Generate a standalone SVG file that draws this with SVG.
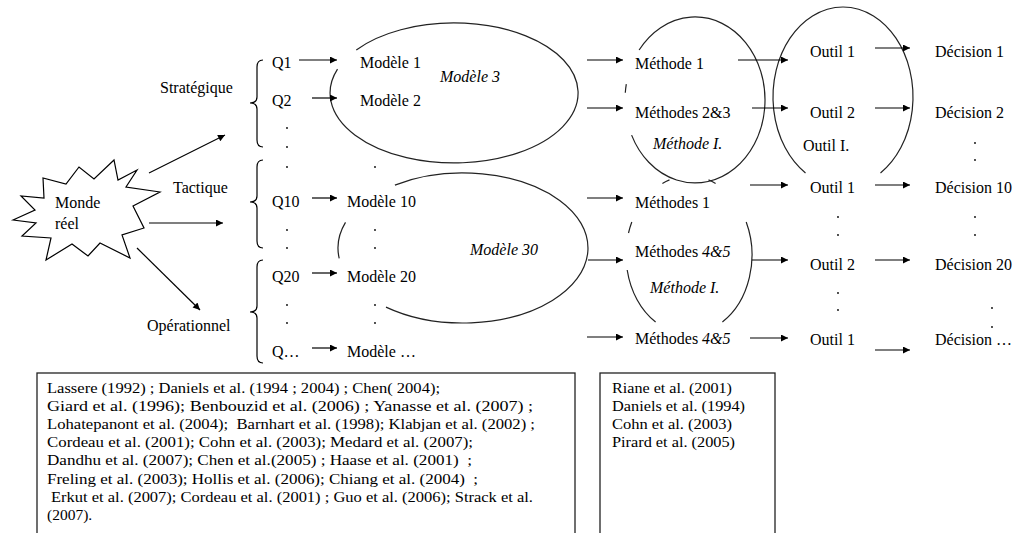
<svg xmlns="http://www.w3.org/2000/svg" width="1017" height="533" viewBox="0 0 1017 533">
<style>
text{font-family:Liberation Serif,Times New Roman,serif;font-size:16px;fill:#000}
.it{font-style:italic}
.ref{font-size:15.5px}
.ln{stroke:#000;stroke-width:1.2;fill:none}
.arr{stroke:#000;stroke-width:1.2;fill:none;marker-end:url(#ah)}
.el{stroke:#222;stroke-width:1.2;fill:none}
.dot{fill:#000}
.box{fill:#fff;stroke:#222;stroke-width:1.3}
</style>
<defs>
<marker id="ah" viewBox="0 0 10 10" refX="10" refY="5" markerWidth="9" markerHeight="7" markerUnits="userSpaceOnUse" orient="auto"><path d="M0,0 L10,5 L0,10 z" fill="#000"/></marker>
</defs>
<rect width="1017" height="533" fill="#fff"/>

<g id="monde-reel">
<polygon class="ln" points="13,220 35,210 21,196 44,198 43,178 66,184 79,167 94,179 114,160 118,180 137,170 126,187 160,192 133,206 144,228 122,235 130,258 100,243 88,256 72,244 46,260 51,238 22,236 36,223"/>
<text x="55" y="208">Monde</text>
<text x="55" y="229">réel</text>
</g>

<g id="niveaux">
<text x="160" y="93">Stratégique</text>
<text x="173" y="193">Tactique</text>
<text x="147" y="331">Opérationnel</text>
<path class="ln" d="M263,60 Q257,60 257,67 L257,97 Q257,103 250,103 Q257,103 257,109 L257,140 Q257,147 263,147"/>
<path class="ln" d="M263,160 Q257,160 257,167 L257,196 Q257,202 250,202 Q257,202 257,208 L257,241 Q257,248 263,248"/>
<path class="ln" d="M263,260 Q257,260 257,267 L257,306 Q257,312 250,312 Q257,312 257,318 L257,356 Q257,363 263,363"/>
</g>

<g id="questions">
<text x="272" y="68">Q1</text>
<text x="272" y="106">Q2</text>
<text x="272" y="207">Q10</text>
<text x="272" y="282">Q20</text>
<text x="272" y="357">Q…</text>
<circle class="dot" cx="287" cy="128" r="0.9"/><circle class="dot" cx="287" cy="147" r="0.9"/><circle class="dot" cx="287" cy="167" r="0.9"/>
<circle class="dot" cx="287" cy="230" r="0.9"/><circle class="dot" cx="287" cy="248" r="0.9"/>
<circle class="dot" cx="287" cy="305" r="0.9"/><circle class="dot" cx="287" cy="323" r="0.9"/>
</g>

<g id="modele-3">
<path class="el" d="M356.3,49.9 A124,70 0 1 1 337.5,69.1"/>
<text x="360" y="68">Modèle 1</text>
<text x="360" y="106">Modèle 2</text>
<text class="it" x="440" y="82">Modèle 3</text>
</g>

<g id="modele-30">
<path class="el" d="M394.9,185.1 A125,75 0 1 1 386,307.1"/>
<path class="el" d="M339.2,258.4 A125,75 0 0 1 345.5,222.4"/>
<text x="347" y="207">Modèle 10</text>
<text x="347" y="282">Modèle 20</text>
<text x="347" y="357">Modèle …</text>
<text class="it" x="470" y="255">Modèle 30</text>
<circle class="dot" cx="375" cy="167" r="0.9"/>
<circle class="dot" cx="375" cy="230" r="0.9"/><circle class="dot" cx="375" cy="248" r="0.9"/>
<circle class="dot" cx="375" cy="305" r="0.9"/><circle class="dot" cx="375" cy="323" r="0.9"/>
</g>

<g id="methode-strategique">
<path class="el" d="M639.1,50 A70,83 0 1 1 631.6,135.1"/>
<path class="el" d="M625.3,92.8 A70,83 0 0 1 626.3,84.2"/>
<text x="635" y="69">Méthode 1</text>
<text x="635" y="118">Méthodes 2&amp;3</text>
<text class="it" x="653" y="149">Méthode I.</text>
</g>

<g id="methode-tactique">
<path class="el" d="M628.5,233 A63,79 0 0 1 631.8,222"/>
<path class="el" d="M655.6,322 A63,79 0 0 1 627.2,270"/>
<path class="el" d="M746.2,222 A63,79 0 0 1 722.4,322"/>
<path class="el" d="M662.4,183.4 A63,79 0 0 1 669.5,179.9"/>
<path class="el" d="M708.5,179.9 A63,79 0 0 1 715.6,183.4"/>
<text x="635" y="208">Méthodes 1</text>
<text x="635" y="257">Méthodes <tspan class="it">4&amp;5</tspan></text>
<text class="it" x="650" y="293">Méthode I.</text>
<text x="635" y="344">Méthodes <tspan class="it">4&amp;5</tspan></text>
</g>

<g id="outils">
<path class="el" d="M805.5,173 A70,90 0 1 1 880.5,173"/>
<text x="810" y="57">Outil 1</text>
<text x="810" y="118">Outil 2</text>
<text x="803" y="151">Outil I.</text>
<text x="810" y="193">Outil 1</text>
<text x="810" y="270">Outil 2</text>
<text x="810" y="345">Outil 1</text>
<circle class="dot" cx="838" cy="217" r="0.9"/><circle class="dot" cx="838" cy="235" r="0.9"/>
<circle class="dot" cx="838" cy="293" r="0.9"/><circle class="dot" cx="838" cy="310" r="0.9"/>
</g>

<g id="decisions">
<text x="935" y="57">Décision 1</text>
<text x="935" y="118">Décision 2</text>
<text x="935" y="193">Décision 10</text>
<text x="935" y="270">Décision 20</text>
<text x="935" y="345">Décision …</text>
<circle class="dot" cx="975" cy="143" r="0.9"/><circle class="dot" cx="975" cy="160" r="0.9"/>
<circle class="dot" cx="975" cy="217" r="0.9"/><circle class="dot" cx="975" cy="235" r="0.9"/>
<circle class="dot" cx="992" cy="308" r="0.9"/><circle class="dot" cx="992" cy="327" r="0.9"/>
</g>

<g id="connectors">
<line class="arr" x1="149" y1="173" x2="225" y2="135"/>
<line class="arr" x1="149" y1="223" x2="223" y2="223"/>
<line class="arr" x1="137" y1="248" x2="200" y2="310"/>
<line class="arr" x1="299" y1="60" x2="337" y2="60"/>
<line class="arr" x1="312" y1="98" x2="337" y2="98"/>
<line class="arr" x1="312" y1="198" x2="337" y2="198"/>
<line class="arr" x1="312" y1="273" x2="337" y2="273"/>
<line class="arr" x1="312" y1="348" x2="337" y2="348"/>
<line class="arr" x1="587" y1="60" x2="623" y2="60"/>
<line class="arr" x1="587" y1="108" x2="623" y2="108"/>
<line class="arr" x1="587" y1="198" x2="623" y2="198"/>
<line class="arr" x1="588" y1="260" x2="623" y2="260"/>
<line class="arr" x1="587" y1="337" x2="623" y2="337"/>
<line class="arr" x1="738" y1="60" x2="788" y2="60"/>
<line class="arr" x1="752" y1="108" x2="788" y2="108"/>
<line class="arr" x1="750" y1="185" x2="788" y2="185"/>
<line class="arr" x1="752" y1="260" x2="788" y2="260"/>
<line class="arr" x1="750" y1="338" x2="788" y2="338"/>
<line class="arr" x1="875" y1="48" x2="910" y2="48"/>
<line class="arr" x1="875" y1="108" x2="910" y2="108"/>
<line class="arr" x1="875" y1="185" x2="910" y2="185"/>
<line class="arr" x1="875" y1="260" x2="910" y2="260"/>
<line class="arr" x1="875" y1="350" x2="910" y2="350"/>
</g>

<g id="references-modeles">
<rect class="box" x="37" y="373" width="538" height="175"/>
<text class="ref" x="47" y="393" textLength="393" lengthAdjust="spacingAndGlyphs">Lassere (1992) ; Daniels et al. (1994 ; 2004) ; Chen( 2004);</text>
<text class="ref" x="47" y="411" textLength="486" lengthAdjust="spacingAndGlyphs">Giard et al. (1996); Benbouzid et al. (2006) ; Yanasse et al. (2007) ;</text>
<text class="ref" x="47" y="429" textLength="488" lengthAdjust="spacingAndGlyphs" xml:space="preserve">Lohatepanont et al. (2004);  Barnhart et al. (1998); Klabjan et al. (2002) ;</text>
<text class="ref" x="47" y="447" textLength="426" lengthAdjust="spacingAndGlyphs">Cordeau et al. (2001); Cohn et al. (2003); Medard et al. (2007);</text>
<text class="ref" x="47" y="465" textLength="425" lengthAdjust="spacingAndGlyphs" xml:space="preserve">Dandhu et al. (2007); Chen et al.(2005) ; Haase et al. (2001)  ;</text>
<text class="ref" x="47" y="484" textLength="431" lengthAdjust="spacingAndGlyphs" xml:space="preserve">Freling et al. (2003); Hollis et al. (2006); Chiang et al. (2004)  ;</text>
<text class="ref" x="51" y="502" textLength="482" lengthAdjust="spacingAndGlyphs">Erkut et al. (2007); Cordeau et al. (2001) ; Guo et al. (2006); Strack et al.</text>
<text class="ref" x="47" y="520">(2007).</text>
</g>

<g id="references-methodes">
<rect class="box" x="600" y="373" width="175" height="175"/>
<text class="ref" x="612" y="393" textLength="120" lengthAdjust="spacingAndGlyphs">Riane et al. (2001)</text>
<text class="ref" x="612" y="411" textLength="133" lengthAdjust="spacingAndGlyphs">Daniels et al. (1994)</text>
<text class="ref" x="612" y="429" textLength="120" lengthAdjust="spacingAndGlyphs">Cohn et al. (2003)</text>
<text class="ref" x="612" y="447" textLength="123" lengthAdjust="spacingAndGlyphs">Pirard et al. (2005)</text>
</g>
</svg>
